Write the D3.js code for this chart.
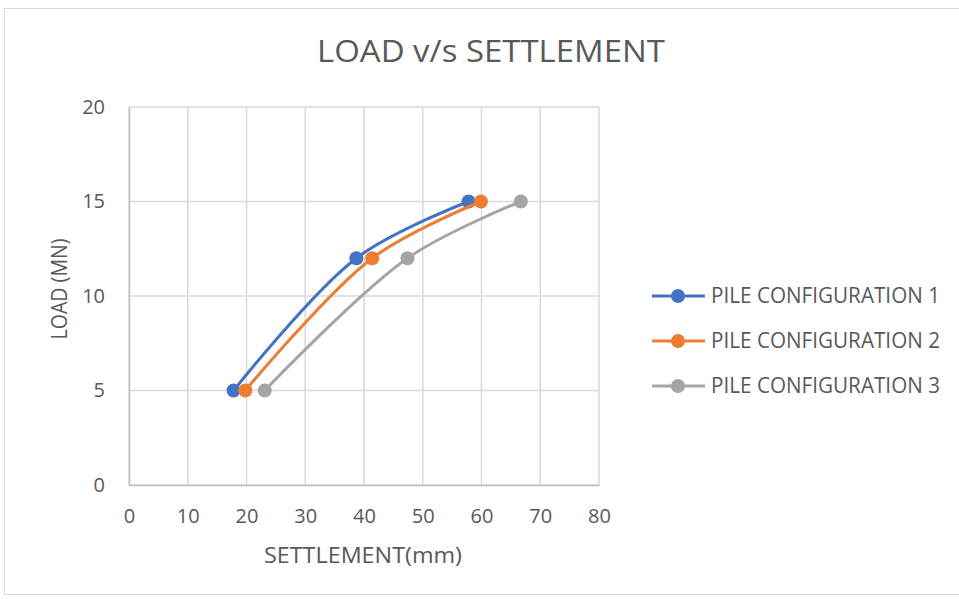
<!DOCTYPE html>
<html>
<head>
<meta charset="utf-8">
<script src="https://cdn.jsdelivr.net/npm/d3@7"></script>
<style>
  html, body { margin: 0; padding: 0; background: #fff; }
  svg { display: block; }
</style>
</head>
<body>
<svg id="chart" width="959" height="599"></svg>
<script>
// Load–settlement data for three pile configurations
const seriesNames = ["PILE CONFIGURATION 1", "PILE CONFIGURATION 2", "PILE CONFIGURATION 3"];
const seriesColors = ["#4472C4", "#ED7D31", "#A5A5A5"];
const loads = [5, 12, 15];                       // LOAD (MN)
const settlement1 = [17.8, 38.7, 57.8];          // mm
const settlement2 = [19.8, 41.4, 59.9];
const settlement3 = [23.1, 47.4, 66.7];
const xTicks = [0, 10, 20, 30, 40, 50, 60, 70, 80];
const yTicks = [0, 5, 10, 15, 20];

const settlements = [settlement1, settlement2, settlement3];
const series = seriesNames.map((name, i) => ({
  name, color: seriesColors[i],
  points: loads.map((l, j) => ({ x: settlements[i][j], y: l }))
}));

const svg = d3.select("#chart");
const font = "'Open Sans', 'Liberation Sans', sans-serif";
const textColor = "#595959";

// outer chart frame
svg.append("rect")
  .attr("x", 4.5).attr("y", 8.5).attr("width", 960).attr("height", 586)
  .attr("fill", "#fff").attr("stroke", "#d9d9d9").attr("stroke-width", 1);

const plot = { left: 129, right: 599, top: 107, bottom: 485 };
const x = d3.scaleLinear().domain([0, 80]).range([plot.left, plot.right]);
const y = d3.scaleLinear().domain([0, 20]).range([plot.bottom, plot.top]);

// gridlines
const grid = svg.append("g");
grid.selectAll("line.v").data(xTicks).join("line")
  .attr("x1", d => x(d)).attr("x2", d => x(d))
  .attr("y1", plot.top).attr("y2", plot.bottom)
  .attr("stroke", "#d9d9d9").attr("stroke-width", 1.5);
grid.selectAll("line.h").data(yTicks).join("line")
  .attr("x1", plot.left).attr("x2", plot.right)
  .attr("y1", d => y(d)).attr("y2", d => y(d))
  .attr("stroke", "#d9d9d9").attr("stroke-width", 1.5);

// axes
const xAxis = svg.append("g").attr("transform", `translate(0,${plot.bottom})`)
  .call(d3.axisBottom(x).tickValues(xTicks).tickSize(0).tickPadding(24));
const yAxis = svg.append("g").attr("transform", `translate(${plot.left},0)`)
  .call(d3.axisLeft(y).tickValues(yTicks).tickSize(0).tickPadding(24));
[xAxis, yAxis].forEach(a => {
  a.select(".domain").attr("stroke", "#bfbfbf").attr("stroke-width", 1.5);
  a.selectAll("text").attr("fill", textColor).style("font-family", font).style("font-size", "20px");
});

// series lines and markers
const line = d3.line().x(d => x(d.x)).y(d => y(d.y)).curve(d3.curveCatmullRom.alpha(0.5));
series.forEach(s => {
  svg.append("path").datum(s.points)
    .attr("d", line).attr("fill", "none")
    .attr("stroke", s.color).attr("stroke-width", 3).attr("stroke-linecap", "round");
  svg.selectAll(null).data(s.points).join("circle")
    .attr("cx", d => x(d.x)).attr("cy", d => y(d.y)).attr("r", 7)
    .attr("fill", s.color);
});

// title
svg.append("text").attr("x", 491).attr("y", 62).attr("text-anchor", "middle")
  .attr("fill", textColor).style("font-family", font).style("font-size", "31px")
  .attr("textLength", 348).attr("lengthAdjust", "spacingAndGlyphs")
  .text("LOAD v/s SETTLEMENT");

// axis titles
svg.append("text").attr("x", 363).attr("y", 563).attr("text-anchor", "middle")
  .attr("fill", textColor).style("font-family", font).style("font-size", "21px")
  .attr("textLength", 198).attr("lengthAdjust", "spacingAndGlyphs")
  .text("SETTLEMENT(mm)");
svg.append("text").attr("transform", "translate(67,289) rotate(-90)").attr("text-anchor", "middle")
  .attr("fill", textColor).style("font-family", font).style("font-size", "22px")
  .attr("textLength", 101).attr("lengthAdjust", "spacingAndGlyphs")
  .text("LOAD (MN)");

// legend
const legend = svg.append("g");
series.forEach((s, i) => {
  const ly = 296 + i * 45;
  legend.append("line").attr("x1", 652).attr("x2", 705).attr("y1", ly).attr("y2", ly)
    .attr("stroke", s.color).attr("stroke-width", 3);
  legend.append("circle").attr("cx", 678).attr("cy", ly).attr("r", 7).attr("fill", s.color);
  legend.append("text").attr("x", 711).attr("y", ly).attr("dy", "0.35em")
    .attr("fill", textColor).style("font-family", font).style("font-size", "21px")
    .attr("textLength", 229).attr("lengthAdjust", "spacingAndGlyphs")
    .text(s.name);
});
</script>
</body>
</html>
